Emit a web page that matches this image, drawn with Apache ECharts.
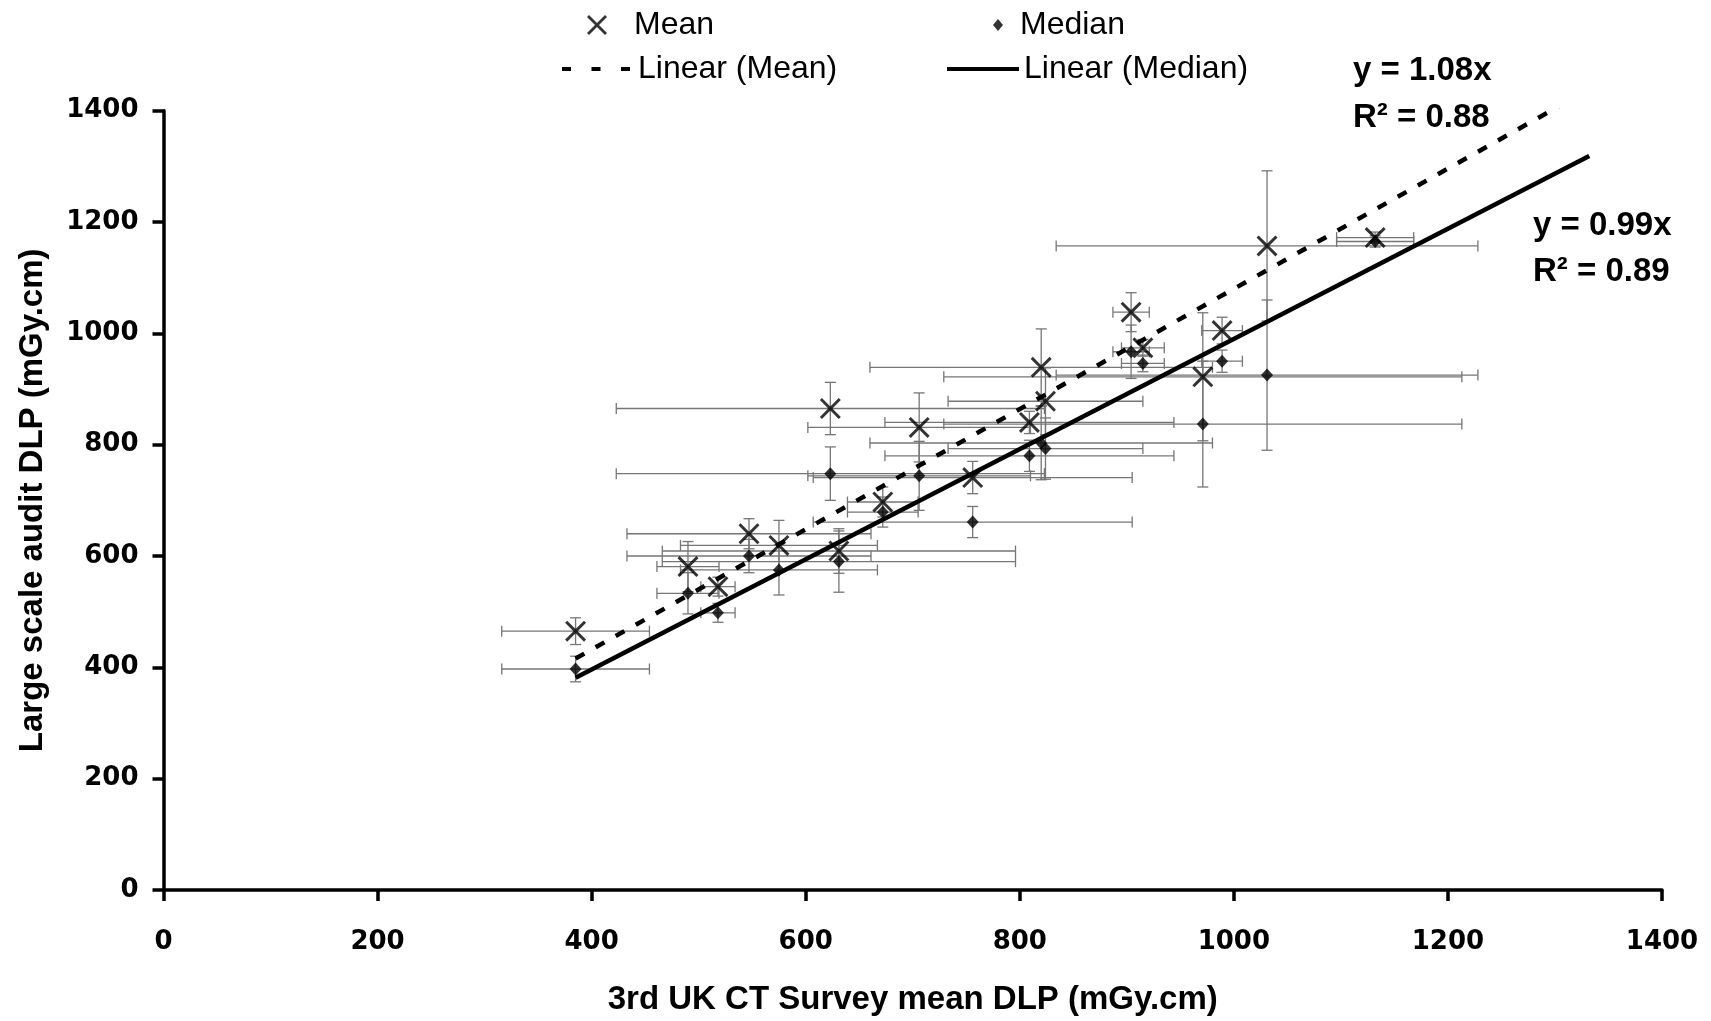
<!DOCTYPE html>
<html>
<head>
<meta charset="utf-8">
<script src="https://cdn.jsdelivr.net/npm/echarts@6/dist/echarts.min.js"></script>
<style>
html,body{margin:0;padding:0;background:#fff;width:1711px;height:1021px;overflow:hidden;}
#chart{position:fixed;left:0;top:0;width:1711px;height:1021px;}
</style>
</head>
<body>
<div id="chart"></div>
<script>
// ---- data ----
const surveyMean  = [385, 490, 518, 547, 575, 631, 623, 672, 706, 756, 809, 820, 824, 904, 915, 971, 989, 1031, 1132];
const auditMean   = [465, 581, 545, 640, 619, 609, 865, 697, 831, 741, 840, 939, 878, 1038, 974, 922, 1005, 1157, 1172];
const auditMedian = [397, 533, 498, 600, 575, 590, 748, 679, 744, 661, 780, 803, 793, 967, 946, 837, 950, 925, 1165];
const surveyErr   = [69, 29, 16, 114, 92, 165, 200, 33, 104, 149, 135, 160, 91, 17, 20, 242, 19, 197, 36];
const meanErr     = [24, 45, 17, 27, 45, 40, 47, 27, 62, 29, 20, 69, 60, 35, 15, 115, 24, 135, 10];
const medianErr   = [23, 37, 17, 30, 45, 55, 48, 27, 62, 28, 28, 66, 55, 48, 15, 113, 20, 135, 10];
const trendX      = [385, 1332];
const meanSlope   = 1.08;
const medianSlope = 0.99;
const meanEq      = ['y = 1.08x', 'R² = 0.88'];
const medianEq    = ['y = 0.99x', 'R² = 0.89'];
const axisTicks   = [0, 200, 400, 600, 800, 1000, 1200, 1400];

// ---- build series data ----
const meanPts   = surveyMean.map((x, i) => [x, auditMean[i]]);
const medianPts = surveyMean.map((x, i) => [x, auditMedian[i]]);
const meanErrData   = surveyMean.map((x, i) => [x, auditMean[i], surveyErr[i], meanErr[i]]);
const medianErrData = surveyMean.map((x, i) => [x, auditMedian[i], surveyErr[i], medianErr[i]]);
const meanTrend   = trendX.map(x => [x, x * meanSlope]);
const medianTrend = trendX.map(x => [x, x * medianSlope]);

const X_PATH = 'path://M2,0 L10,8 L18,0 L20,2 L12,10 L20,18 L18,20 L10,12 L2,20 L0,18 L8,10 L0,2 Z';
const DASH_ICON = 'path://M0,0h9v4h-9z M29.5,0h9v4h-9z M59,0h9v4h-9z';

function renderErr(params, api) {
  const x = api.value(0), y = api.value(1), xe = api.value(2), ye = api.value(3);
  const c = api.coord([x, y]);
  const l = api.coord([x - xe, y]);
  const r = api.coord([x + xe, y]);
  const t = api.coord([x, y + ye]);
  const b = api.coord([x, y - ye]);
  const cap = 5.5;
  const style = { stroke: '#767676', lineWidth: 1.3 };
  const ln = (x1, y1, x2, y2) => ({ type: 'line', shape: { x1, y1, x2, y2 }, style });
  return {
    type: 'group',
    children: [
      ln(l[0], c[1], r[0], c[1]),
      ln(l[0], c[1] - cap, l[0], c[1] + cap),
      ln(r[0], c[1] - cap, r[0], c[1] + cap),
      ln(c[0], t[1], c[0], b[1]),
      ln(c[0] - cap, t[1], c[0] + cap, t[1]),
      ln(c[0] - cap, b[1], c[0] + cap, b[1])
    ]
  };
}

const legendFont = { fontFamily: '"Liberation Sans", Arial, sans-serif', fontSize: 32, color: '#000' };
const boldFont = '"Liberation Sans", Arial, sans-serif';
const tickFont = { fontFamily: '"DejaVu Sans", sans-serif', fontWeight: 'bold', fontSize: 26, color: '#000' };

const chart = echarts.init(document.getElementById('chart'), null, { renderer: 'canvas', width: 1711, height: 1021 });
chart.setOption({
  backgroundColor: '#fff',
  animation: false,
  grid: { left: 163.5, top: 110.7, width: 1498.5, height: 783.8, containLabel: false },
  legend: [
    { data: [{ name: 'Mean', icon: X_PATH }], left: 582, top: 4, itemWidth: 20, itemHeight: 20,
      textStyle: Object.assign({ padding: [0, 0, 0, 22] }, legendFont), selectedMode: false },
    { data: [{ name: 'Median', icon: 'diamond' }], left: 988, top: 4, itemWidth: 10, itemHeight: 12,
      textStyle: Object.assign({ padding: [0, 0, 0, 12] }, legendFont), selectedMode: false },
    { data: [{ name: 'Linear (Mean)', icon: DASH_ICON }], left: 557, top: 48, itemWidth: 68, itemHeight: 4,
      textStyle: Object.assign({ padding: [0, 0, 0, 3] }, legendFont), selectedMode: false },
    { data: [{ name: 'Linear (Median)', icon: 'rect' }], left: 942, top: 48, itemWidth: 72, itemHeight: 4,
      textStyle: Object.assign({ padding: [0, 0, 0, 0] }, legendFont), selectedMode: false }
  ],
  xAxis: {
    type: 'value', min: 0, max: 1400, interval: 200,
    name: '3rd UK CT Survey mean DLP (mGy.cm)', nameLocation: 'middle', nameGap: 93,
    nameTextStyle: { fontFamily: boldFont, fontWeight: 'bold', fontSize: 33, color: '#000' },
    axisLine: { onZero: false, lineStyle: { color: '#000', width: 3.5 } },
    axisTick: { inside: false, length: 11, lineStyle: { color: '#000', width: 3.5 } },
    axisLabel: Object.assign({ margin: 39, formatter: v => axisTicks.includes(v) ? String(v) : '' }, tickFont),
    splitLine: { show: false }
  },
  yAxis: {
    type: 'value', min: 0, max: 1400, interval: 200,
    name: 'Large scale audit DLP (mGy.cm)', nameLocation: 'middle', nameGap: 114, nameRotate: 90,
    nameTextStyle: { fontFamily: boldFont, fontWeight: 'bold', fontSize: 33, color: '#000' },
    axisLine: { onZero: false, lineStyle: { color: '#000', width: 3.5 } },
    axisTick: { inside: false, length: 11, lineStyle: { color: '#000', width: 3.5 } },
    axisLabel: Object.assign({ margin: 25, formatter: v => axisTicks.includes(v) ? String(v) : '' }, tickFont),
    splitLine: { show: false }
  },
  series: [
    { type: 'custom', name: 'meanErr', data: meanErrData, renderItem: renderErr, encode: { x: 0, y: 1 }, z: 1, silent: true },
    { type: 'custom', name: 'medianErr', data: medianErrData, renderItem: renderErr, encode: { x: 0, y: 1 }, z: 1, silent: true },
    { type: 'scatter', name: 'Mean', data: meanPts, symbol: X_PATH, symbolSize: 21,
      itemStyle: { color: '#000' }, z: 3 },
    { type: 'scatter', name: 'Median', data: medianPts, symbol: 'diamond', symbolSize: [12, 13],
      itemStyle: { color: '#000' }, z: 3 },
    { type: 'line', name: 'Linear (Mean)', data: meanTrend, symbol: 'none', showSymbol: false, clip: true,
      lineStyle: { color: '#000', width: 4.5, type: [10, 13] }, itemStyle: { color: '#000' }, z: 4 },
    { type: 'line', name: 'Linear (Median)', data: medianTrend, symbol: 'none', showSymbol: false, clip: true,
      lineStyle: { color: '#000', width: 4.5, type: 'solid' }, itemStyle: { color: '#000' }, z: 4 }
  ],
  graphic: [
    { type: 'text', left: 1353, top: 54, style: { text: meanEq[0], font: 'bold 33px ' + boldFont, fill: '#000' } },
    { type: 'text', left: 1353, top: 101, style: { text: meanEq[1], font: 'bold 33px ' + boldFont, fill: '#000' } },
    { type: 'text', left: 1533, top: 209, style: { text: medianEq[0], font: 'bold 33px ' + boldFont, fill: '#000' } },
    { type: 'text', left: 1533, top: 255, style: { text: medianEq[1], font: 'bold 33px ' + boldFont, fill: '#000' } }
  ]
});
</script>
</body>
</html>
